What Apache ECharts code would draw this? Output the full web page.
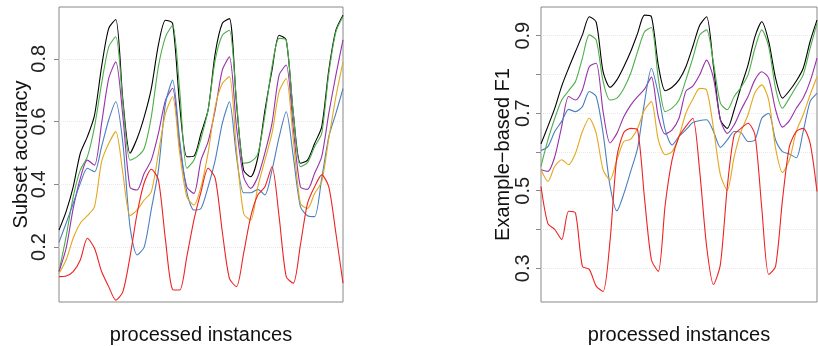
<!DOCTYPE html>
<html>
<head>
<meta charset="utf-8">
<script src="https://cdn.jsdelivr.net/npm/echarts@6/dist/echarts.min.js"></script>
<style>
  html, body { margin: 0; padding: 0; background: #fff; }
  #acc-chart { width: 818px; height: 346px; }
</style>
</head>
<body>
<div id="acc-chart"></div>
<script>

var instances = [];
for (var k = 1; k <= 41; k++) { instances.push(k); }

var leftTicks = [0.2, 0.4, 0.6, 0.8];
var rightTicks = [0.3, 0.4, 0.5, 0.6, 0.7, 0.8, 0.9];
var rightLabels = [0.3, 0.5, 0.7, 0.9];

// subset accuracy (left panel)
var accBlack  = [0.254,0.313,0.392,0.499,0.552,0.62,0.775,0.897,0.925,0.668,0.499,0.546,0.615,0.705,0.844,0.923,0.913,0.652,0.488,0.49,0.562,0.637,0.817,0.913,0.928,0.658,0.445,0.424,0.485,0.635,0.764,0.875,0.86,0.626,0.467,0.477,0.53,0.583,0.764,0.891,0.939];
var accGreen  = [0.122,0.233,0.36,0.445,0.488,0.583,0.721,0.838,0.87,0.658,0.477,0.488,0.514,0.615,0.775,0.87,0.907,0.70,0.451,0.477,0.546,0.637,0.796,0.875,0.891,0.668,0.467,0.472,0.497,0.62,0.775,0.865,0.86,0.626,0.456,0.469,0.52,0.562,0.753,0.886,0.935];
var accPurple = [0.122,0.196,0.323,0.419,0.477,0.461,0.594,0.737,0.79,0.615,0.39,0.382,0.435,0.477,0.562,0.668,0.706,0.52,0.392,0.371,0.477,0.536,0.637,0.764,0.806,0.583,0.424,0.387,0.424,0.50,0.594,0.748,0.78,0.578,0.392,0.384,0.435,0.488,0.626,0.748,0.86];
var accBlue   = [0.215,0.276,0.339,0.403,0.451,0.44,0.52,0.605,0.663,0.53,0.265,0.175,0.2,0.32,0.445,0.658,0.732,0.541,0.376,0.318,0.323,0.392,0.477,0.594,0.663,0.488,0.373,0.373,0.384,0.366,0.445,0.55,0.631,0.488,0.329,0.30,0.297,0.419,0.552,0.626,0.705];
var accOrange = [0.116,0.159,0.228,0.276,0.30,0.329,0.472,0.53,0.568,0.435,0.30,0.318,0.35,0.376,0.499,0.626,0.679,0.499,0.36,0.334,0.392,0.5,0.647,0.721,0.743,0.509,0.307,0.286,0.392,0.477,0.562,0.695,0.737,0.541,0.339,0.323,0.371,0.408,0.546,0.679,0.79];
var accRed    = [0.106,0.108,0.122,0.159,0.228,0.196,0.122,0.074,0.031,0.058,0.169,0.307,0.405,0.448,0.414,0.222,0.065,0.063,0.169,0.286,0.376,0.451,0.42,0.249,0.10,0.074,0.18,0.297,0.366,0.392,0.456,0.297,0.106,0.085,0.207,0.339,0.392,0.43,0.392,0.244,0.085];

// example-based F1 (right panel)
var f1Black  = [0.621,0.666,0.713,0.77,0.816,0.859,0.902,0.949,0.935,0.807,0.767,0.786,0.82,0.859,0.906,0.953,0.949,0.824,0.758,0.767,0.786,0.82,0.872,0.927,0.949,0.82,0.683,0.661,0.709,0.769,0.824,0.897,0.936,0.885,0.79,0.739,0.758,0.783,0.816,0.885,0.94];
var f1Green  = [0.563,0.631,0.687,0.734,0.758,0.782,0.842,0.902,0.889,0.782,0.734,0.739,0.764,0.803,0.859,0.91,0.921,0.79,0.704,0.713,0.734,0.786,0.842,0.902,0.915,0.829,0.726,0.709,0.743,0.767,0.799,0.867,0.915,0.872,0.764,0.713,0.739,0.769,0.799,0.867,0.932];
var f1Purple = [0.554,0.55,0.588,0.666,0.743,0.734,0.76,0.82,0.829,0.704,0.623,0.648,0.691,0.721,0.743,0.762,0.793,0.691,0.646,0.657,0.687,0.757,0.77,0.799,0.837,0.79,0.683,0.648,0.67,0.709,0.743,0.786,0.807,0.79,0.709,0.664,0.681,0.713,0.739,0.782,0.842];
var f1Blue   = [0.604,0.614,0.653,0.679,0.71,0.704,0.717,0.756,0.743,0.648,0.513,0.448,0.492,0.55,0.61,0.728,0.816,0.75,0.657,0.618,0.64,0.657,0.676,0.681,0.683,0.653,0.612,0.631,0.653,0.65,0.627,0.631,0.687,0.70,0.631,0.601,0.595,0.585,0.653,0.73,0.751];
var f1Orange = [0.554,0.524,0.563,0.58,0.567,0.597,0.653,0.687,0.648,0.554,0.528,0.58,0.627,0.633,0.661,0.709,0.73,0.631,0.593,0.601,0.64,0.70,0.736,0.764,0.76,0.661,0.541,0.501,0.588,0.653,0.696,0.753,0.773,0.734,0.61,0.547,0.58,0.653,0.696,0.747,0.794];
var f1Red    = [0.511,0.415,0.40,0.374,0.447,0.442,0.305,0.297,0.254,0.24,0.37,0.588,0.65,0.661,0.657,0.481,0.322,0.292,0.464,0.58,0.64,0.666,0.687,0.55,0.357,0.258,0.31,0.51,0.644,0.661,0.674,0.645,0.455,0.284,0.305,0.477,0.614,0.653,0.661,0.623,0.498];

var colors = {
  black: '#000000',
  green: '#4daf4a',
  purple: '#9632aa',
  blue: '#4a7fc1',
  orange: '#e3a81c',
  red: '#ee2222'
};

var accChart = echarts.init(document.getElementById('acc-chart'));

var font = 'Liberation Sans, Arial, Helvetica, sans-serif';

function makeLine(name, data, color, idx) {
  return {
    name: name,
    type: 'line',
    xAxisIndex: idx,
    yAxisIndex: idx,
    data: data,
    showSymbol: false,
    symbol: 'none',
    smooth: 0.25,
    lineStyle: { width: 1.1, color: color },
    itemStyle: { color: color }
  };
}

function xAxisFor(idx) {
  return {
    type: 'category',
    gridIndex: idx,
    data: instances,
    boundaryGap: false,
    axisLine: { show: false },
    axisTick: { show: false },
    axisLabel: { show: false },
    splitLine: { show: false },
    name: 'processed instances',
    nameLocation: 'middle',
    nameGap: 23,
    nameTextStyle: { fontSize: 20, fontFamily: font, color: '#111' }
  };
}

option = {
  animation: false,
  backgroundColor: '#ffffff',
  grid: [
    { left: 59, top: 7, width: 284, height: 295, outerBoundsMode: 'none', containLabel: false,
      show: true, borderColor: '#888', borderWidth: 1 },
    { left: 541, top: 7, width: 276, height: 295, outerBoundsMode: 'none', containLabel: false,
      show: true, borderColor: '#888', borderWidth: 1 }
  ],
  xAxis: [xAxisFor(0), xAxisFor(1)],
  yAxis: [
    {
      type: 'value',
      gridIndex: 0,
      min: 0.025,
      max: 0.965,
      splitNumber: 5,
      name: 'Subset accuracy',
      nameLocation: 'middle',
      nameGap: 28,
      nameMoveOverlap: false,
      nameTextStyle: { fontSize: 20, fontFamily: font, color: '#111' },
      axisLine: { show: false },
      axisTick: { show: true, length: 5, lineStyle: { color: '#888' }, customValues: leftTicks },
      axisLabel: {
        rotate: 90, margin: 10, fontSize: 20, fontFamily: font, color: '#222',
        customValues: leftTicks,
        formatter: function (v) { return v.toFixed(1); }
      },
      splitLine: { show: true, lineStyle: { type: 'dotted', color: '#e8e8e8' } }
    },
    {
      type: 'value',
      gridIndex: 1,
      min: 0.213,
      max: 0.974,
      splitNumber: 8,
      name: 'Example\u2212based F1',
      nameLocation: 'middle',
      nameGap: 28,
      nameMoveOverlap: false,
      nameTextStyle: { fontSize: 20, fontFamily: font, color: '#111' },
      axisLine: { show: false },
      axisTick: { show: true, length: 5, lineStyle: { color: '#888' }, customValues: rightTicks },
      axisLabel: {
        rotate: 90, margin: 8, fontSize: 20, fontFamily: font, color: '#222',
        customValues: rightLabels,
        formatter: function (v) { return v.toFixed(1); }
      },
      splitLine: { show: true, lineStyle: { type: 'dotted', color: '#e8e8e8' } }
    }
  ],
  series: [
    makeLine('black', accBlack, colors.black, 0),
    makeLine('green', accGreen, colors.green, 0),
    makeLine('purple', accPurple, colors.purple, 0),
    makeLine('blue', accBlue, colors.blue, 0),
    makeLine('orange', accOrange, colors.orange, 0),
    makeLine('red', accRed, colors.red, 0),
    makeLine('black', f1Black, colors.black, 1),
    makeLine('green', f1Green, colors.green, 1),
    makeLine('purple', f1Purple, colors.purple, 1),
    makeLine('blue', f1Blue, colors.blue, 1),
    makeLine('orange', f1Orange, colors.orange, 1),
    makeLine('red', f1Red, colors.red, 1)
  ]
};

option && accChart.setOption(option);

window.addEventListener('resize', resize);

// Resize function
function resize() {
  setTimeout(function () {
    accChart.resize();
  }, 200);
}

</script>
</body>
</html>
